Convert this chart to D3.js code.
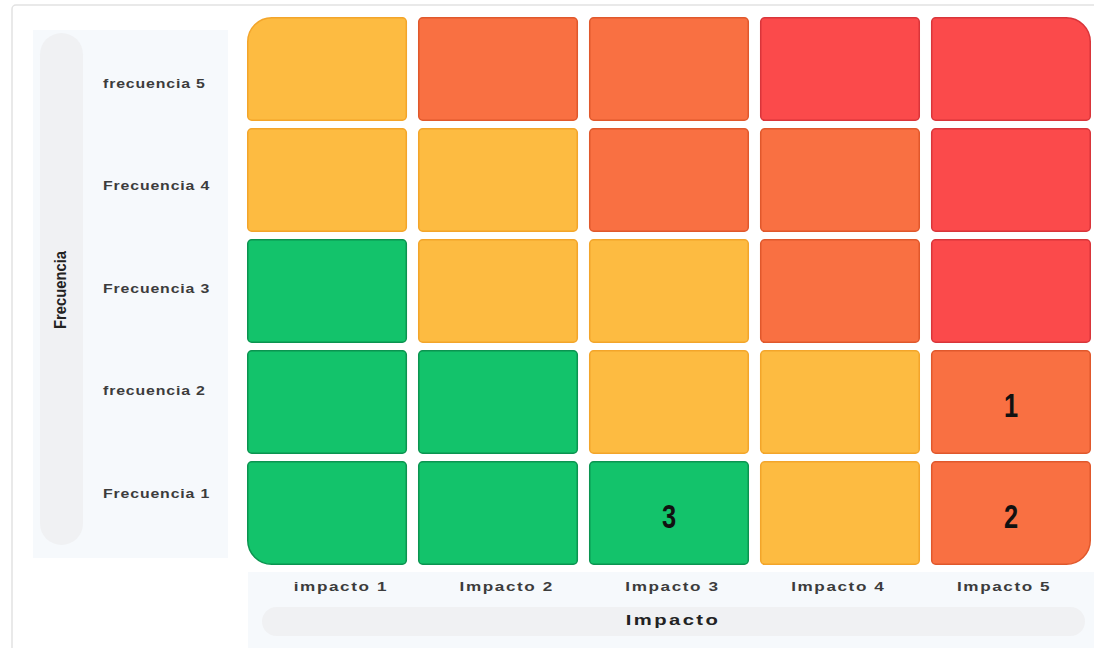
<!DOCTYPE html>
<html>
<head>
<meta charset="utf-8">
<script src="https://cdn.jsdelivr.net/npm/d3@7"></script>
<style>
  html, body { margin: 0; padding: 0; background: #ffffff; }
  svg { display: block; }
</style>
</head>
<body>
<svg id="chart" width="1094" height="648"></svg>
<script>
// ---- data ----
const impactos = ["impacto 1", "Impacto 2", "Impacto 3", "Impacto 4", "Impacto 5"];
const frecuencias = ["frecuencia 5", "Frecuencia 4", "Frecuencia 3", "frecuencia 2", "Frecuencia 1"];
// risk level per row (top = frecuencia 5) and column (impacto 1..5)
const nivelF5 = ["medio", "alto", "alto", "extremo", "extremo"];
const nivelF4 = ["medio", "medio", "alto", "alto", "extremo"];
const nivelF3 = ["bajo", "medio", "medio", "alto", "extremo"];
const nivelF2 = ["bajo", "bajo", "medio", "medio", "alto"];
const nivelF1 = ["bajo", "bajo", "bajo", "medio", "alto"];
const riesgoEtiquetas = ["3", "1", "2"];
const riesgoImpacto = ["Impacto 3", "Impacto 5", "Impacto 5"];
const riesgoFrecuencia = ["Frecuencia 1", "frecuencia 2", "Frecuencia 1"];
const tituloY = "Frecuencia";
const tituloX = "Impacto";

// ---- styles ----
const fillColor = { bajo: "#13c36b", medio: "#fdbb41", alto: "#f97042", extremo: "#fb4a4b" };
const strokeColor = { bajo: "#0b9450", medio: "#f3a52a", alto: "#e0582c", extremo: "#d9353a" };

const svg = d3.select("#chart");

// card
svg.append("rect").attr("x", 12).attr("y", 5).attr("width", 1100).attr("height", 680)
  .attr("rx", 4).attr("fill", "#ffffff").attr("stroke", "#e2e2e2").attr("stroke-width", 1.5);

// panels
svg.append("rect").attr("x", 33).attr("y", 30).attr("width", 195).attr("height", 528).attr("fill", "#f6f9fc");
svg.append("rect").attr("x", 40).attr("y", 33).attr("width", 43).attr("height", 512).attr("rx", 21.5).attr("fill", "#f0f1f3");
svg.append("rect").attr("x", 248).attr("y", 572).attr("width", 846).attr("height", 76).attr("fill", "#f6f9fc");
svg.append("rect").attr("x", 262).attr("y", 607).attr("width", 823).attr("height", 29).attr("rx", 14.5).attr("fill", "#f0f1f3");

// scales for cells
const x = d3.scaleBand().domain(impactos).range([247, 1091]).paddingInner(0.064);
const y = d3.scaleBand().domain(frecuencias).range([17, 565]).paddingInner(0.063);
// scales for tick label placement (spread over the axis panels)
const xl = d3.scaleBand().domain(impactos).range([258, 1087]);
const yl = d3.scaleBand().domain(frecuencias).range([33, 546]);

const niveles = [nivelF5, nivelF4, nivelF3, nivelF2, nivelF1];
const cells = [];
frecuencias.forEach((f, ri) => impactos.forEach((imp, ci) => cells.push({ f, imp, ri, ci, nivel: niveles[ri][ci] })));

function roundedPath(x0, y0, w, h, r) {
  const [tl, tr, br, bl] = r;
  return `M${x0 + tl},${y0}` +
    `H${x0 + w - tr}` + `A${tr},${tr} 0 0 1 ${x0 + w},${y0 + tr}` +
    `V${y0 + h - br}` + `A${br},${br} 0 0 1 ${x0 + w - br},${y0 + h}` +
    `H${x0 + bl}` + `A${bl},${bl} 0 0 1 ${x0},${y0 + h - bl}` +
    `V${y0 + tl}` + `A${tl},${tl} 0 0 1 ${x0 + tl},${y0}Z`;
}
const small = 4, big = 24;
const nR = frecuencias.length - 1, nC = impactos.length - 1;

svg.append("g").selectAll("path").data(cells).join("path")
  .attr("d", d => {
    const r = [
      d.ri === 0 && d.ci === 0 ? big : small,
      d.ri === 0 && d.ci === nC ? big : small,
      d.ri === nR && d.ci === nC ? big : small,
      d.ri === nR && d.ci === 0 ? big : small
    ];
    return roundedPath(x(d.imp) + 0.75, y(d.f) + 0.75, x.bandwidth() - 1.5, y.bandwidth() - 1.5, r);
  })
  .attr("fill", d => fillColor[d.nivel])
  .attr("stroke", d => strokeColor[d.nivel])
  .attr("stroke-width", 1.5);

// risk numbers (narrow, tall glyphs)
svg.append("g").selectAll("text").data(riesgoEtiquetas).join("text")
  .attr("transform", (d, i) =>
    `translate(${x(riesgoImpacto[i]) + x.bandwidth() / 2},${y(riesgoFrecuencia[i]) + y.bandwidth() / 2 + 6}) scale(0.82,1.08)`)
  .attr("text-anchor", "middle")
  .attr("dominant-baseline", "middle")
  .attr("font-family", "'Liberation Sans', Arial, sans-serif")
  .attr("font-weight", "bold")
  .attr("font-size", 31)
  .attr("fill", "#111")
  .text(d => d);

// y tick labels (wide, short glyphs)
svg.append("g").selectAll("text").data(frecuencias).join("text")
  .attr("transform", d => `translate(103,${yl(d) + yl.bandwidth() / 2}) scale(1.22,0.95)`)
  .attr("dominant-baseline", "middle")
  .attr("font-family", "'Liberation Sans', Arial, sans-serif")
  .attr("font-weight", "bold")
  .attr("font-size", 13)
  .attr("letter-spacing", 0.7)
  .attr("fill", "#3c3c3c")
  .text(d => d);

// x tick labels
svg.append("g").selectAll("text").data(impactos).join("text")
  .attr("transform", d => `translate(${xl(d) + xl.bandwidth() / 2},588) scale(1.32,0.95)`)
  .attr("text-anchor", "middle")
  .attr("dominant-baseline", "middle")
  .attr("font-family", "'Liberation Sans', Arial, sans-serif")
  .attr("font-weight", "bold")
  .attr("font-size", 13)
  .attr("letter-spacing", 1.2)
  .attr("fill", "#3c3c3c")
  .text(d => d);

// axis titles
svg.append("text")
  .attr("transform", "translate(62,290) rotate(-90) scale(0.87,1)")
  .attr("text-anchor", "middle")
  .attr("dominant-baseline", "middle")
  .attr("font-family", "'Liberation Sans', Arial, sans-serif")
  .attr("font-weight", "bold")
  .attr("font-size", 17)
  .attr("fill", "#222")
  .text(tituloY);

svg.append("text")
  .attr("transform", "translate(673,621) scale(1.35,0.95)")
  .attr("text-anchor", "middle")
  .attr("dominant-baseline", "middle")
  .attr("font-family", "'Liberation Sans', Arial, sans-serif")
  .attr("font-weight", "bold")
  .attr("font-size", 15)
  .attr("letter-spacing", 1.8)
  .attr("fill", "#222")
  .text(tituloX);
</script>
</body>
</html>
